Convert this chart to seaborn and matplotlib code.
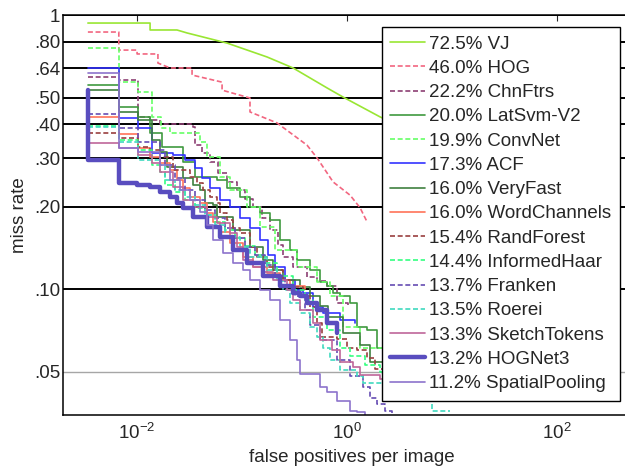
import matplotlib
matplotlib.use('Agg')
import matplotlib.pyplot as plt
import seaborn as sns
from matplotlib.ticker import NullLocator

sns.set_style('white')
plt.rcParams['font.family'] = ['Liberation Sans', 'DejaVu Sans']
plt.rcParams['mathtext.fontset'] = 'custom'
plt.rcParams['mathtext.rm'] = 'Liberation Sans'
plt.rcParams['mathtext.it'] = 'Liberation Sans:italic'

# curves: false positives per image vs miss rate
vj_fppi = [0.0034, 0.0133, 0.0133, 0.024, 0.030, 0.072, 0.173, 0.306, 0.645, 0.916, 2.06, 10.0]
vj_miss = [0.935, 0.935, 0.882, 0.882, 0.860, 0.790, 0.703, 0.641, 0.542, 0.502, 0.425, 0.32]

hog_fppi = [0.0034, 0.0067, 0.0067, 0.0100, 0.0100, 0.0158, 0.0158, 0.0206, 0.0334, 0.0334, 0.0645,
            0.0645, 0.119, 0.119, 0.215, 0.416, 0.518, 0.736, 1.07, 1.33, 1.55]
hog_miss = [0.867, 0.867, 0.745, 0.745, 0.721, 0.721, 0.668, 0.641, 0.641, 0.604, 0.569,
            0.532, 0.498, 0.443, 0.404, 0.335, 0.301, 0.246, 0.220, 0.198, 0.176]

chnftrs_fppi = [0.0034, 0.0067, 0.0102, 0.0133, 0.0166, 0.0341, 0.0357, 0.0416, 0.0496, 0.059, 0.072, 0.0896,
                0.107, 0.127, 0.155, 0.185, 0.220, 0.246, 0.306, 0.416, 0.518, 0.645, 0.803, 1.02]
chnftrs_miss = [0.594, 0.579, 0.424, 0.414, 0.400, 0.390, 0.335, 0.314, 0.291, 0.265, 0.246, 0.230,
                0.214, 0.199, 0.181, 0.164, 0.145, 0.131, 0.120, 0.111, 0.107, 0.103, 0.089, 0.086]

latsvm_fppi = [0.0034, 0.0067, 0.0102, 0.0133, 0.0173, 0.0274, 0.0357, 0.0578, 0.072, 0.0957, 0.119, 0.148,
               0.185, 0.230, 0.286, 0.334, 0.444, 0.553, 0.645, 0.736, 0.858, 1.07, 1.24, 1.55, 1.93, 2.57, 4.96]
latsvm_miss = [0.555, 0.462, 0.424, 0.371, 0.330, 0.291, 0.256, 0.250, 0.233, 0.217, 0.199, 0.189,
               0.179, 0.151, 0.139, 0.128, 0.117, 0.106, 0.103, 0.097, 0.094, 0.089, 0.073, 0.071, 0.061, 0.057, 0.051]

convnet_fppi = [0.0034, 0.0067, 0.0102, 0.0139, 0.0169, 0.0206, 0.0398, 0.0465, 0.0617, 0.0769, 0.112,
                0.148, 0.206, 0.334, 0.518, 0.689, 0.916, 1.33, 2.2, 4.96]
convnet_miss = [0.758, 0.569, 0.524, 0.424, 0.387, 0.371, 0.344, 0.303, 0.256, 0.230, 0.199,
                0.168, 0.139, 0.120, 0.106, 0.094, 0.073, 0.061, 0.055, 0.045]

acf_fppi = [0.0034, 0.0067, 0.0102, 0.0139, 0.022, 0.0286, 0.0357, 0.0416, 0.0496, 0.0617, 0.0769, 0.0957,
            0.119, 0.148, 0.177, 0.206, 0.257, 0.320, 0.381, 0.475, 0.591, 0.858, 1.19]
acf_miss = [0.641, 0.421, 0.387, 0.313, 0.308, 0.296, 0.277, 0.254, 0.234, 0.211, 0.199, 0.182,
            0.167, 0.151, 0.133, 0.120, 0.108, 0.099, 0.097, 0.086, 0.082, 0.077, 0.075]

veryfast_fppi = [0.0034, 0.0067, 0.0102, 0.0139, 0.0166, 0.0193, 0.0274, 0.0341, 0.0398, 0.0444, 0.053, 0.0578,
                 0.082, 0.119, 0.158, 0.197, 0.246, 0.357, 0.444, 0.553, 0.659, 0.916, 1.33, 1.66, 2.30]
veryfast_miss = [0.532, 0.442, 0.414, 0.350, 0.316, 0.279, 0.254, 0.240, 0.230, 0.206, 0.203, 0.183,
                 0.164, 0.142, 0.128, 0.117, 0.108, 0.102, 0.094, 0.087, 0.079, 0.069, 0.0625, 0.054, 0.052]

wordch_fppi = [0.0034, 0.0067, 0.0102, 0.0133, 0.0166, 0.0206, 0.024, 0.0274, 0.032, 0.0398, 0.0465,
               0.053, 0.0617, 0.0769, 0.102, 0.127, 0.173, 0.230, 0.286, 0.398]
wordch_miss = [0.424, 0.368, 0.327, 0.303, 0.288, 0.272, 0.250, 0.234, 0.217, 0.206, 0.189,
               0.176, 0.162, 0.147, 0.131, 0.120, 0.114, 0.108, 0.103, 0.100]

randf_fppi = [0.0034, 0.0067, 0.0102, 0.0133, 0.0166, 0.022, 0.032, 0.0373, 0.0425, 0.0496, 0.0578, 0.0617,
              0.072, 0.082, 0.0957, 0.119, 0.139, 0.173, 0.197, 0.246, 0.306, 0.381, 0.444, 0.518, 0.578,
              0.803, 1.0, 1.24, 1.55, 1.85, 2.57]
randf_miss = [0.371, 0.355, 0.330, 0.322, 0.303, 0.272, 0.256, 0.244, 0.230, 0.217, 0.206, 0.189,
              0.179, 0.167, 0.160, 0.142, 0.131, 0.120, 0.117, 0.108, 0.102, 0.094, 0.086, 0.075, 0.067,
              0.066, 0.061, 0.060, 0.056, 0.051, 0.0465]

ihaar_fppi = [0.0034, 0.0067, 0.0102, 0.0139, 0.0166, 0.0185, 0.023, 0.0286, 0.0357, 0.0444, 0.0553, 0.0689,
              0.0858, 0.107, 0.133, 0.166, 0.215, 0.306, 0.398, 0.475, 0.645, 0.858, 1.07, 1.48, 2.06, 3.2]
ihaar_miss = [0.394, 0.350, 0.322, 0.284, 0.267, 0.240, 0.226, 0.211, 0.198, 0.186, 0.176, 0.164,
              0.154, 0.144, 0.133, 0.124, 0.112, 0.099, 0.091, 0.079, 0.071, 0.061, 0.057, 0.053, 0.050, 0.0465]

franken_fppi = [0.0034, 0.0067, 0.0102, 0.0166, 0.0185, 0.023, 0.0286, 0.0357, 0.0444, 0.0553, 0.0689, 0.0858,
                0.107, 0.133, 0.166, 0.206, 0.257, 0.320, 0.398, 0.444, 0.553, 0.803, 1.07, 1.42, 1.66, 1.93,
                2.30, 2.68]
franken_miss = [0.435, 0.387, 0.344, 0.322, 0.284, 0.254, 0.230, 0.211, 0.194, 0.182, 0.167, 0.154,
                0.142, 0.133, 0.122, 0.112, 0.103, 0.094, 0.084, 0.074, 0.065, 0.055, 0.048, 0.044, 0.040, 0.038,
                0.036, 0.034]

roerei_fppi = [0.0034, 0.0067, 0.0102, 0.0166, 0.0185, 0.023, 0.0286, 0.0357, 0.0444, 0.0553, 0.0689, 0.0957,
               0.119, 0.173, 0.215, 0.246, 0.286, 0.357, 0.444, 0.518, 0.591, 0.689, 0.858, 1.24, 1.42, 2.2,
               3.2, 6.45, 6.45, 9.57]
roerei_miss = [0.39, 0.344, 0.296, 0.284, 0.250, 0.230, 0.217, 0.203, 0.186, 0.171, 0.155, 0.142,
               0.131, 0.117, 0.108, 0.099, 0.089, 0.082, 0.073, 0.067, 0.061, 0.055, 0.0506, 0.048, 0.0455, 0.0438,
               0.041, 0.0386, 0.0358, 0.0358]

sketch_fppi = [0.0034, 0.0067, 0.0102, 0.0139, 0.0166, 0.022, 0.0274, 0.0341, 0.0465, 0.0578, 0.0769, 0.0896,
               0.102, 0.127, 0.158, 0.197, 0.268, 0.306, 0.357, 0.475, 0.553, 0.720, 0.858, 1.14, 1.33, 2.06,
               4.96, 14.9]
sketch_miss = [0.341, 0.327, 0.308, 0.288, 0.267, 0.236, 0.211, 0.199, 0.183, 0.174, 0.160, 0.142,
               0.128, 0.120, 0.115, 0.108, 0.099, 0.091, 0.084, 0.075, 0.065, 0.060, 0.054, 0.052, 0.0485, 0.047,
               0.043, 0.039]

hognet_fppi = [0.0034, 0.0034, 0.0067, 0.0100, 0.0133, 0.0166, 0.0206, 0.024, 0.0274, 0.0341, 0.0465,
               0.0617, 0.082, 0.112, 0.158, 0.230, 0.306, 0.357, 0.416, 0.518, 0.645, 0.803]
hognet_miss = [0.532, 0.296, 0.244, 0.240, 0.236, 0.226, 0.217, 0.206, 0.198, 0.183, 0.168,
               0.155, 0.139, 0.124, 0.112, 0.103, 0.097, 0.094, 0.089, 0.084, 0.075, 0.069]

spool_fppi = [0.0034, 0.0067, 0.0102, 0.0166, 0.0206, 0.0257, 0.032, 0.0398, 0.0465, 0.053, 0.0659, 0.082,
              0.102, 0.119, 0.148, 0.185, 0.230, 0.286, 0.334, 0.357, 0.444, 0.553, 0.645, 0.803, 1.07, 1.24, 1.48]
spool_miss = [0.614, 0.327, 0.316, 0.284, 0.250, 0.230, 0.211, 0.191, 0.171, 0.151, 0.135, 0.124,
              0.117, 0.108, 0.099, 0.091, 0.077, 0.065, 0.055, 0.049, 0.049, 0.044, 0.042, 0.039, 0.036, 0.0355, 0.033]

labels = ['72.5% VJ', '46.0% HOG', '22.2% ChnFtrs', '20.0% LatSvm-V2', '19.9% ConvNet', '17.3% ACF',
          '16.0% VeryFast', '16.0% WordChannels', '15.4% RandForest', '14.4% InformedHaar', '13.7% Franken',
          '13.5% Roerei', '13.3% SketchTokens', '13.2% HOGNet3', '11.2% SpatialPooling']

y_ticks = [0.05, 0.10, 0.20, 0.30, 0.40, 0.50, 0.64, 0.80, 1.0]
y_ticklabels = ['.05', '.10', '.20', '.30', '.40', '.50', '.64', '.80', '1']
x_ticks = [1e-2, 1e0, 1e2]

dash = (0, (3, 1.6))
curves = [
    (vj_fppi, vj_miss, (0.6, 0.9, 0.2), '-', 1.2, 'default'),
    (hog_fppi, hog_miss, (0.95, 0.4, 0.5), dash, 1.2, 'default'),
    (chnftrs_fppi, chnftrs_miss, (0.55, 0.25, 0.45), dash, 1.2, 'steps-post'),
    (latsvm_fppi, latsvm_miss, (0.25, 0.6, 0.25), '-', 1.2, 'steps-post'),
    (convnet_fppi, convnet_miss, (0.4, 1.0, 0.4), dash, 1.2, 'steps-post'),
    (acf_fppi, acf_miss, (0.2, 0.2, 1.0), '-', 1.2, 'steps-post'),
    (veryfast_fppi, veryfast_miss, (0.25, 0.5, 0.25), '-', 1.2, 'steps-post'),
    (wordch_fppi, wordch_miss, (1.0, 0.45, 0.35), '-', 1.2, 'steps-post'),
    (randf_fppi, randf_miss, (0.6, 0.25, 0.25), dash, 1.2, 'steps-post'),
    (ihaar_fppi, ihaar_miss, (0.2, 1.0, 0.5), dash, 1.2, 'steps-post'),
    (franken_fppi, franken_miss, (0.4, 0.3, 0.7), dash, 1.2, 'steps-post'),
    (roerei_fppi, roerei_miss, (0.25, 0.85, 0.75), dash, 1.2, 'steps-post'),
    (sketch_fppi, sketch_miss, (0.75, 0.4, 0.6), '-', 1.2, 'steps-post'),
    (hognet_fppi, hognet_miss, (0.35, 0.3, 0.75), '-', 3.2, 'steps-post'),
    (spool_fppi, spool_miss, (0.55, 0.45, 0.8), '-', 1.2, 'steps-post'),
]

fig = plt.figure(figsize=(6.25, 4.7), dpi=100)
ax = fig.add_axes([0.1008, 0.117, 0.9232, 0.851])
ax.set_xscale('log')
ax.set_yscale('log')

for (fx, my, col, ls, lw, ds), lab in zip(curves, labels):
    sns.lineplot(x=fx, y=my, ax=ax, color=col, linestyle=ls, linewidth=lw, drawstyle=ds,
                 estimator=None, sort=False, label=lab)

ax.set_xlim(0.00197, 617)
ax.set_ylim(0.0347, 1.0)
ax.set_xticks(x_ticks)
ax.set_yticks(y_ticks)
ax.set_yticklabels(y_ticklabels)
ax.xaxis.set_minor_locator(NullLocator())
ax.yaxis.set_minor_locator(NullLocator())
ax.tick_params(axis='x', which='major', direction='in', top=True, length=4, width=0.8,
               labelsize=13.5, pad=6)
ax.tick_params(axis='y', which='major', direction='in', length=3, width=0.8, labelsize=13.5, pad=2)

ax.set_axisbelow(True)
ax.yaxis.grid(True, color='black', linewidth=1.4)
ax.get_ygridlines()[0].set_color('0.65')
ax.get_ygridlines()[0].set_linewidth(1.0)

for s in ax.spines.values():
    s.set_color('black')
    s.set_linewidth(1.1)

ax.set_xlabel('false positives per image', fontsize=13.5, labelpad=4)
ax.set_ylabel('miss rate', fontsize=13.5, labelpad=4)

h, l = ax.get_legend_handles_labels()
leg = ax.legend(h, l, loc='upper right', bbox_to_anchor=(620 / 625, 443 / 470),
                bbox_transform=fig.transFigure, frameon=True, fancybox=False, edgecolor='black',
                framealpha=1, fontsize=13.5, handlelength=1.85, handletextpad=0.25, borderpad=0.45,
                labelspacing=0.38, borderaxespad=0)
leg.get_frame().set_linewidth(1.0)

fig.savefig('out.png', dpi=100)
